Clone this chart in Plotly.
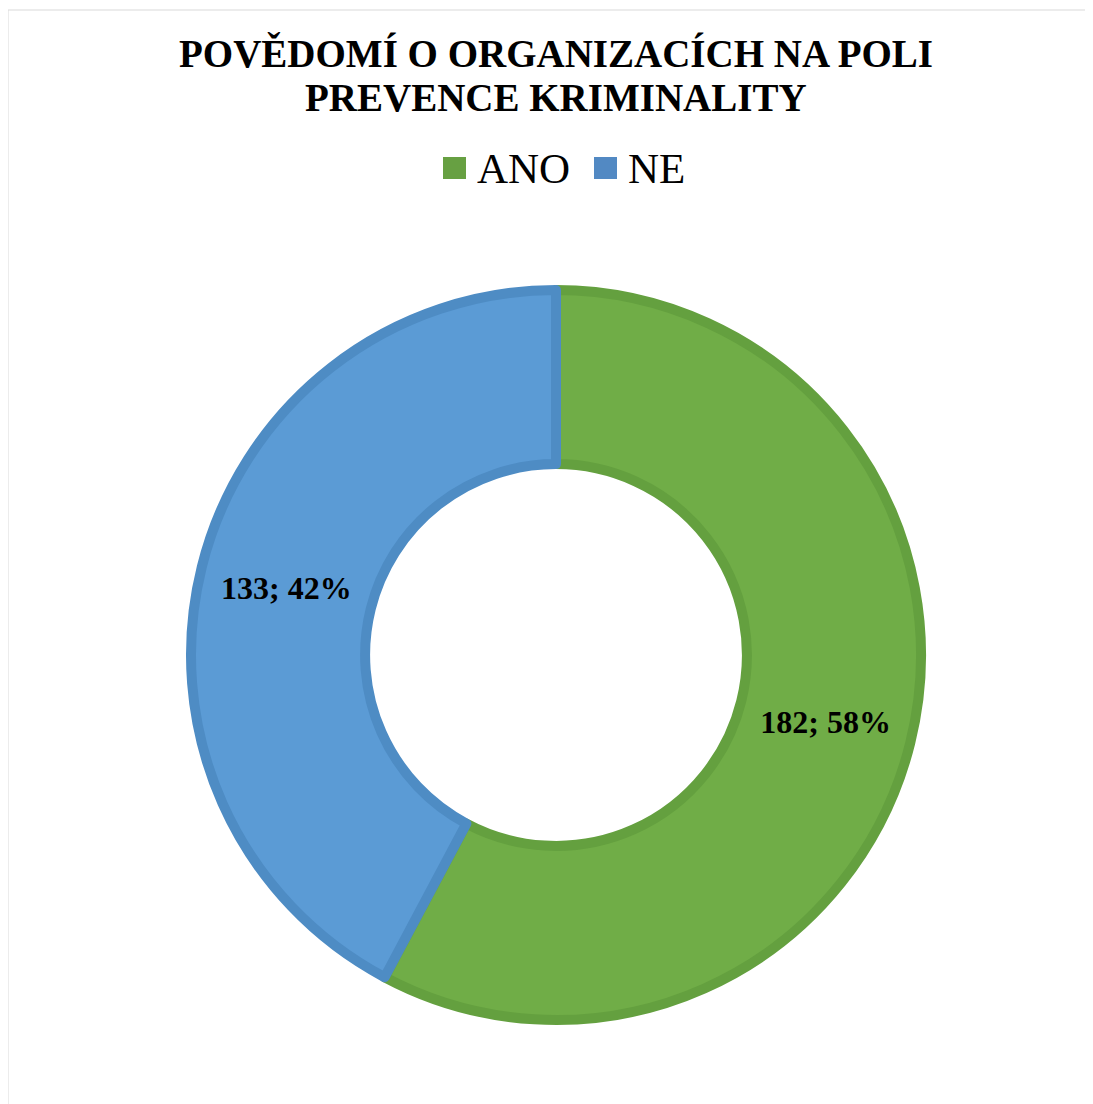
import plotly.graph_objects as go

labels = ["ANO", "NE"]
values = [182, 133]
fill_colors = ["#70AD47", "#5B9BD5"]
edge_colors = ["#64A03F", "#4E8CC4"]
title_lines = ["POVĚDOMÍ O ORGANIZACÍCH NA POLI", "PREVENCE KRIMINALITY"]

FONT = "Times New Roman, Liberation Serif, serif"
OFF = 8                      # page body margin
W, H = 1093 - OFF, 1104 - OFF
cx, cy, r = 556 - OFF, 655 - OFF, 365


def px(x):
    return x / W


def py(y):
    return 1 - y / H


fig = go.Figure(go.Pie(
    labels=labels,
    values=values,
    hole=0.523,
    sort=False,
    direction="clockwise",
    rotation=0,
    marker=dict(colors=fill_colors, line=dict(color=edge_colors, width=10)),
    texttemplate="<b>%{value}; %{percent:.0%}</b>",
    textposition="inside",
    insidetextorientation="horizontal",
    textfont=dict(family=FONT, size=32, color="black"),
    domain=dict(x=[px(cx - r), px(cx + r)], y=[py(cy + r), py(cy - r)]),
    hoverinfo="label+value+percent",
    showlegend=False,
))

annotations = []
for i, line in enumerate(title_lines):
    annotations.append(dict(
        text=f"<b>{line}</b>", x=px(556 - OFF), y=py(53 + 44 * i - OFF),
        xref="paper", yref="paper", xanchor="center", yanchor="middle",
        showarrow=False, font=dict(family=FONT, size=39, color="black"),
    ))

# legend drawn by hand so the swatches get the reference's size
shapes = [dict(type="rect", xref="paper", yref="paper",
               x0=0, x1=1.01, y0=-0.01, y1=py(10 - OFF),
               line=dict(color="#D9D9D9", width=1))]
legend_x = [443, 594]
legend_col = ["#67A042", "#5289C3"]
for lx, lab, col in zip(legend_x, labels, legend_col):
    x0 = lx - OFF
    shapes.append(dict(type="rect", xref="paper", yref="paper",
                       x0=px(x0), x1=px(x0 + 23), y0=py(179 - OFF), y1=py(157 - OFF),
                       fillcolor=col, line=dict(width=0)))
    annotations.append(dict(
        text=lab, x=px(x0 + 32), y=py(168 - OFF), xref="paper", yref="paper",
        xanchor="left", yanchor="middle", showarrow=False,
        font=dict(family=FONT, size=43, color="black"),
    ))

fig.update_layout(
    width=W, height=H,
    margin=dict(l=0, r=0, t=0, b=0),
    paper_bgcolor="white",
    font=dict(family=FONT, color="black"),
    annotations=annotations,
    shapes=shapes,
)

fig.write_html("out.html")
